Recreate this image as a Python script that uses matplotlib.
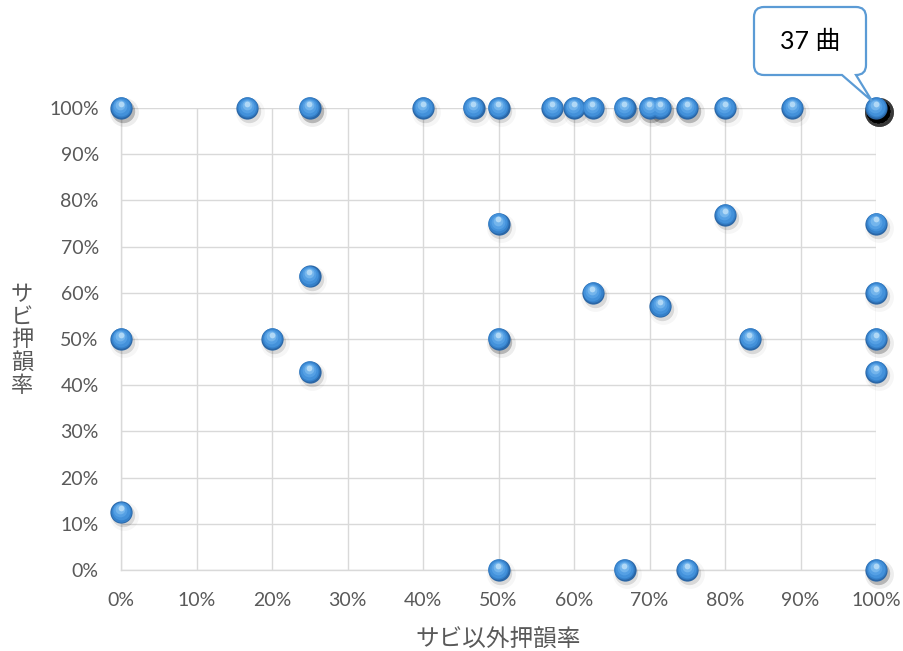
import matplotlib
matplotlib.use('Agg')
import matplotlib.pyplot as plt
import numpy as np
from matplotlib.path import Path
from matplotlib.patches import PathPatch
from matplotlib.transforms import ScaledTranslation
from matplotlib.ticker import FuncFormatter

# rhyme rate outside the chorus (x) vs rhyme rate in the chorus (y), one song per point
x_vals = [0.000, 0.167, 0.250, 0.400, 0.467, 0.500, 0.571, 0.600, 0.625, 0.667,
          0.700, 0.714, 0.750, 0.800, 0.889, 1.000,
          0.500, 0.800, 1.000,
          0.250, 0.625, 0.714, 1.000,
          0.000, 0.200, 0.500, 0.833, 1.000,
          0.250, 1.000,
          0.000,
          0.500, 0.667, 0.750, 1.000]
y_vals = [1.000, 1.000, 1.000, 1.000, 1.000, 1.000, 1.000, 1.000, 1.000, 1.000,
          1.000, 1.000, 1.000, 1.000, 1.000, 1.000,
          0.750, 0.769, 0.750,
          0.636, 0.600, 0.571, 0.600,
          0.500, 0.500, 0.500, 0.500, 0.500,
          0.429, 0.429,
          0.125,
          0.000, 0.000, 0.000, 0.000]
counts = [2, 1, 2, 1, 1, 1, 1, 1, 1, 2,
          2, 2, 2, 1, 1, 37,
          1, 1, 1,
          1, 1, 1, 1,
          1, 1, 2, 1, 2,
          1, 1,
          1,
          1, 1, 1, 2]
callout_text = '37 曲'
x_label = 'サビ以外押韻率'
y_label = 'サビ押韻率'
ticks = np.arange(0, 1.01, 0.1)

W, H = 904, 651
fig = plt.figure(figsize=(W / 100, H / 100), dpi=100)
ax = fig.add_axes([121 / W, 1 - 570 / H, (876 - 121) / W, (570 - 108) / H])
ax.set_xlim(0, 1)
ax.set_ylim(0, 1)
ax.set_xticks(ticks)
ax.set_yticks(ticks)
pct = FuncFormatter(lambda v, _: f'{v * 100:.0f}%')
ax.xaxis.set_major_formatter(pct)
ax.yaxis.set_major_formatter(pct)
ax.grid(True, color='#d9d9d9', linewidth=1.0)
ax.set_axisbelow(True)
for side in ['top', 'right']:
    ax.spines[side].set_visible(False)
for side in ['left', 'bottom']:
    ax.spines[side].set_color('#d9d9d9')
    ax.spines[side].set_linewidth(1.0)
ax.tick_params(length=0, labelsize=14, labelcolor='#595959', pad=16)
for lab in ax.get_xticklabels() + ax.get_yticklabels():
    lab.set_family(['Lato', 'DejaVu Sans'])

ax.set_xlabel(x_label, family=['Noto Sans CJK JP'], fontsize=17,
              color='#595959', labelpad=14)
fig.text(22 / W, 1 - 340 / H, '\n'.join(y_label), family=['Noto Sans CJK JP'],
         fontsize=16, color='#595959', ha='center', va='center', linespacing=0.98)


def shifted(dx, dy):
    return ax.transData + ScaledTranslation(dx / 72, dy / 72, fig.dpi_scale_trans)


xs = np.array(x_vals)
ys = np.array(y_vals)
xr = np.repeat(xs, counts)
yr = np.repeat(ys, counts)
D = 16.0
kw = dict(clip_on=False, linewidths=0)
# soft shadow, stacked once per song
ax.scatter(xr, yr, s=(D * 1.3) ** 2, color='black', alpha=0.035,
           transform=shifted(1.8, -3.0), zorder=3, **kw)
ax.scatter(xr, yr, s=(D * 1.05) ** 2, color='black', alpha=0.12,
           transform=shifted(1.3, -2.2), zorder=3, **kw)
# sphere body, dark rim to light top
layers = [(1.00, '#2a66a6', 0.0, 0.0),
          (0.92, '#3580c9', -0.2, 0.4),
          (0.80, '#4391da', -0.3, 0.8),
          (0.62, '#55a0e4', -0.4, 1.3),
          (0.44, '#74b5ec', -0.4, 2.0),
          (0.26, '#b0d8f6', -0.3, 3.0)]
for i, (f, c, dx, dy) in enumerate(layers):
    ax.scatter(xs, ys, s=(D * f) ** 2, color=c, transform=shifted(dx, dy),
               zorder=4 + i * 0.01, **kw)

# callout box anchored to the (100%, 100%) point
px, py = ax.transData.transform((1.0, 1.0))
left, right = px - 122, px - 10
top, bottom = py + 101, py + 33
tip = (px - 4, py + 7)
r = 10
verts = [(left + r, top), (right - r, top), (right, top), (right, top - r),
         (right, bottom + r), (right, bottom), (right - r, bottom),
         (px - 20, bottom), tip, (px - 34, bottom),
         (left + r, bottom), (left, bottom), (left, bottom + r),
         (left, top - r), (left, top), (left + r, top), (left + r, top)]
codes = [Path.MOVETO, Path.LINETO, Path.CURVE3, Path.CURVE3,
         Path.LINETO, Path.CURVE3, Path.CURVE3,
         Path.LINETO, Path.LINETO, Path.LINETO,
         Path.LINETO, Path.CURVE3, Path.CURVE3,
         Path.LINETO, Path.CURVE3, Path.CURVE3, Path.CLOSEPOLY]
fpath = Path([(vx / W, vy / H) for vx, vy in verts], codes)
fig.add_artist(PathPatch(fpath, transform=fig.transFigure, facecolor='white',
                         edgecolor='#5b9bd5', linewidth=1.6, zorder=10))
fig.text(((left + right) / 2) / W, ((top + bottom) / 2) / H, callout_text,
         family=['Lato', 'Noto Sans CJK JP'], fontsize=18, color='black',
         ha='center', va='center', zorder=11)

fig.savefig('out.png', dpi=100)
